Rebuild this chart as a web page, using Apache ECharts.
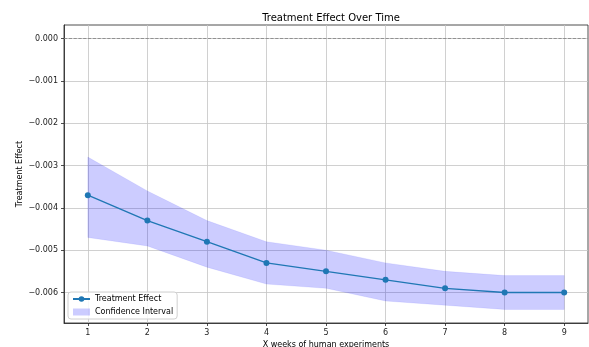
<!DOCTYPE html>
<html>
<head>
<meta charset="utf-8">
<script src="https://cdn.jsdelivr.net/npm/echarts@6/dist/echarts.min.js"></script>
<style>
html,body{margin:0;padding:0;background:#fff;}
#chart{width:589px;height:347px;}
</style>
</head>
<body>
<div id="chart"></div>
<script>
var weeks = [1, 2, 3, 4, 5, 6, 7, 8, 9];
var effect = [-0.0037, -0.0043, -0.0048, -0.0053, -0.0055, -0.0057, -0.0059, -0.0060, -0.0060];
var upper = [-0.0028, -0.0036, -0.0043, -0.0048, -0.0050, -0.0053, -0.0055, -0.0056, -0.0056];
var lower = [-0.0047, -0.0049, -0.0054, -0.0058, -0.0059, -0.0062, -0.0063, -0.0064, -0.0064];
var xTicks = [1, 2, 3, 4, 5, 6, 7, 8, 9];
var yTicks = [0, -0.001, -0.002, -0.003, -0.004, -0.005, -0.006];

var FONT = 'DejaVu Sans';
var BAND = 'rgba(0,0,255,0.2)';
var chart = echarts.init(document.getElementById('chart'), null, {renderer: 'canvas'});

var bandData = weeks.map(function (w, i) { return [w, lower[i], upper[i]]; });

function renderBand(params, api) {
  if (params.dataIndex !== 0) return null;
  var top = [], bottom = [];
  for (var i = 0; i < bandData.length; i++) {
    top.push(api.coord([bandData[i][0], bandData[i][2]]));
    bottom.push(api.coord([bandData[i][0], bandData[i][1]]));
  }
  var pts = top.concat(bottom.reverse());
  return {
    type: 'polygon',
    shape: {points: pts},
    style: {fill: BAND, stroke: 'rgba(0,0,255,0.12)', lineWidth: 0.6}
  };
}

var option = {
  animation: false,
  backgroundColor: '#fff',
  textStyle: {fontFamily: FONT},
  title: {
    text: 'Treatment Effect Over Time',
    left: 326, top: 8, textAlign: 'center',
    textStyle: {fontFamily: FONT, fontSize: 10, fontWeight: 'normal', color: '#000'}
  },
  grid: {
    left: 64, right: 1, top: 25, bottom: 24,
    outerBoundsMode: 'none',
    containLabel: false,
    show: true, borderColor: '#222', borderWidth: 0.8, backgroundColor: 'transparent'
  },
  legend: {
    orient: 'vertical',
    left: 68, top: 292,
    padding: [3, 4, 3, 4],
    itemWidth: 17, itemHeight: 7, itemGap: 5,
    backgroundColor: 'rgba(255,255,255,0.85)',
    borderColor: '#d0d0d0', borderWidth: 1, borderRadius: 3,
    textStyle: {fontFamily: FONT, fontSize: 8, color: '#000'},
    data: [
      {name: 'Treatment Effect'},
      {name: 'Confidence Interval', icon: 'rect', itemStyle: {color: BAND}}
    ]
  },
  xAxis: {
    type: 'value', min: 0.6, max: 9.4,
    name: 'X weeks of human experiments',
    nameLocation: 'middle', nameGap: 17.5, nameMoveOverlap: false,
    nameTextStyle: {fontFamily: FONT, fontSize: 8, color: '#000'},
    axisLine: {show: true, onZero: false, lineStyle: {color: '#222', width: 0.8}},
    axisTick: {show: true, length: 3, customValues: xTicks, lineStyle: {color: '#222', width: 0.8}},
    axisLabel: {customValues: xTicks, margin: 6, fontFamily: FONT, fontSize: 8, color: '#222'},
    splitLine: {show: true, lineStyle: {color: '#c4c4c4', width: 0.8}}
  },
  yAxis: {
    type: 'value', min: -0.00672, max: 0.00032,
    name: 'Treatment Effect',
    nameLocation: 'middle', nameGap: 40, nameRotate: 90, nameMoveOverlap: false,
    nameTextStyle: {fontFamily: FONT, fontSize: 8, color: '#000'},
    axisLine: {show: true, onZero: false, lineStyle: {color: '#222', width: 0.8}},
    axisTick: {show: true, length: 3, customValues: yTicks, lineStyle: {color: '#222', width: 0.8}},
    axisLabel: {
      customValues: yTicks, margin: 6, fontFamily: FONT, fontSize: 8, color: '#222',
      formatter: function (v) {
        var r = Math.round(v * 1e6) / 1e6;
        return (r < 0 ? '\u2212' : '') + Math.abs(r).toFixed(3);
      }
    },
    splitLine: {show: true, lineStyle: {color: '#c4c4c4', width: 0.8}}
  },
  series: [
    {
      name: 'Confidence Interval',
      type: 'custom',
      data: bandData,
      encode: {x: 0, y: [1, 2]},
      renderItem: renderBand,
      itemStyle: {color: BAND},
      silent: true,
      clip: true,
      z: 2
    },
    {
      name: 'Treatment Effect',
      type: 'line',
      data: weeks.map(function (w, i) { return [w, effect[i]]; }),
      symbol: 'circle', symbolSize: 6,
      itemStyle: {color: '#1f77b4'},
      lineStyle: {color: '#1f77b4', width: 1.3},
      z: 4,
      markLine: {
        silent: true, symbol: 'none', label: {show: false},
        lineStyle: {color: '#808080', type: 'dashed', width: 0.8},
        data: [{yAxis: 0}]
      }
    }
  ]
};
chart.setOption(option);
</script>
</body>
</html>
